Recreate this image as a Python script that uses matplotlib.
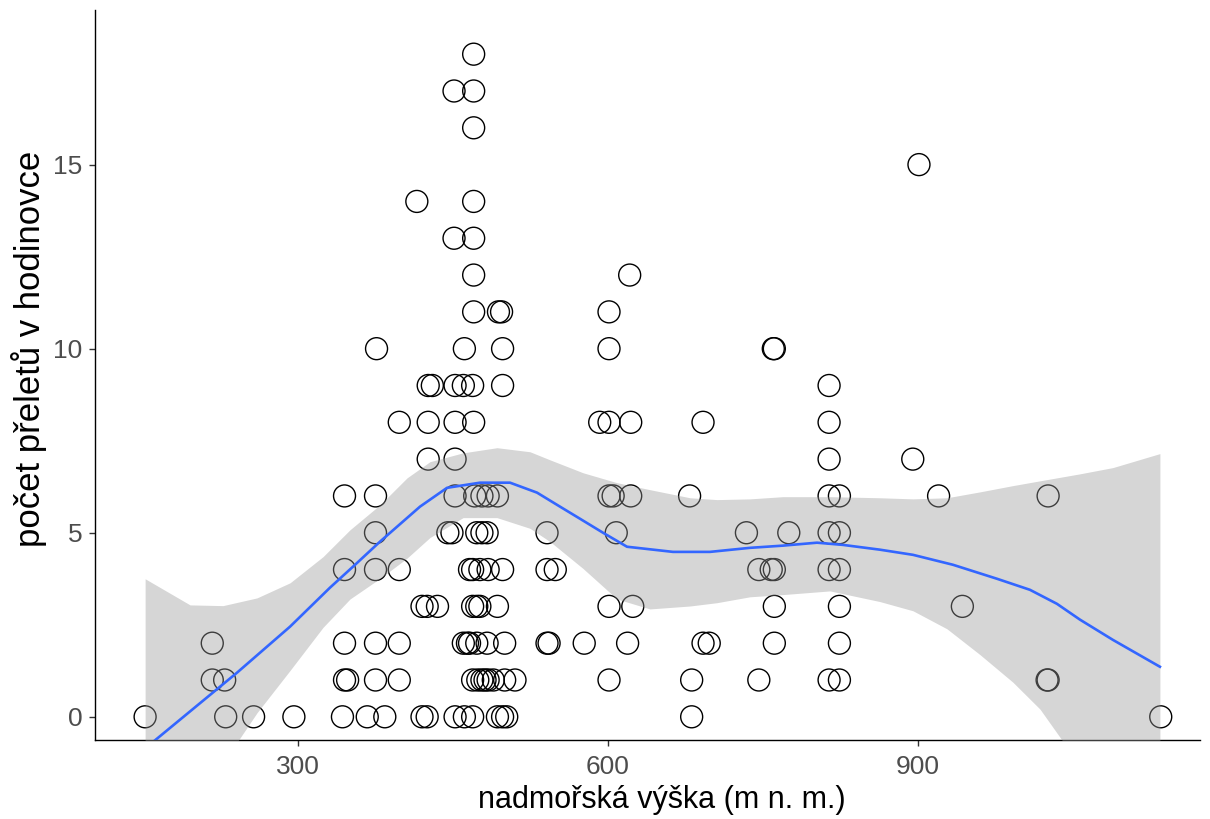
import matplotlib
matplotlib.use("Agg")
import matplotlib.pyplot as plt

plt.rcParams['font.family'] = ['Liberation Sans', 'DejaVu Sans']

# elevation (m a.s.l.) and number of flights per hour, one line per count level
elevation = [
    152, 230, 257, 296, 343, 367, 384, 420, 425, 452, 461, 469, 493, 498, 502, 681, 1135,
    217, 229, 345, 348, 375, 398, 469, 474, 478, 481, 484, 489, 500, 510, 601, 681, 746, 814, 824, 1025, 1026,
    217, 345, 375, 398, 460, 464, 466, 473, 483, 500, 541, 543, 577, 619, 692, 698, 761, 824,
    420, 425, 435, 469, 473, 476, 493, 601, 624, 761, 824, 943,
    345, 375, 398, 466, 469, 476, 484, 498, 541, 549, 746, 758, 761, 814, 824,
    375, 445, 449, 473, 478, 483, 541, 608, 734, 775, 814, 824,
    345, 375, 452, 471, 478, 484, 493, 601, 605, 622, 679, 814, 824, 920, 1026,
    426, 452, 814, 895,
    398, 426, 452, 470, 592, 601, 622, 692, 814,
    426, 430, 452, 460, 469, 498, 814,
    376, 461, 498, 601, 760, 761,
    470, 494, 497, 601,
    470, 621,
    451, 470,
    415, 470,
    901,
    470,
    451, 470,
    470,
]
flights = [
    0, 0, 0, 0, 0, 0, 0, 0, 0, 0, 0, 0, 0, 0, 0, 0, 0,
    1, 1, 1, 1, 1, 1, 1, 1, 1, 1, 1, 1, 1, 1, 1, 1, 1, 1, 1, 1, 1,
    2, 2, 2, 2, 2, 2, 2, 2, 2, 2, 2, 2, 2, 2, 2, 2, 2, 2,
    3, 3, 3, 3, 3, 3, 3, 3, 3, 3, 3, 3,
    4, 4, 4, 4, 4, 4, 4, 4, 4, 4, 4, 4, 4, 4, 4,
    5, 5, 5, 5, 5, 5, 5, 5, 5, 5, 5, 5,
    6, 6, 6, 6, 6, 6, 6, 6, 6, 6, 6, 6, 6, 6, 6,
    7, 7, 7, 7,
    8, 8, 8, 8, 8, 8, 8, 8, 8,
    9, 9, 9, 9, 9, 9, 9,
    10, 10, 10, 10, 10, 10,
    11, 11, 11, 11,
    12, 12,
    13, 13,
    14, 14,
    15,
    16,
    17, 17,
    18,
]

# loess fit line
fit_x = [152, 241.0, 292.3, 331.0, 355.2, 379.4, 418.1, 444.2, 476.1, 505.2,
         531.3, 553.5, 570.0, 595.2, 618.4, 662.9, 698.7, 737.4, 769.4, 802.3,
         827.4, 863.2, 895.2, 933.9, 976.5, 1008.4, 1034.5, 1056.8, 1088.7, 1134.2]
fit_y = [-0.86, 1.20, 2.45, 3.51, 4.13, 4.76, 5.71, 6.22, 6.36, 6.36,
         6.09, 5.71, 5.43, 5.00, 4.62, 4.48, 4.48, 4.59, 4.65, 4.73,
         4.67, 4.54, 4.40, 4.13, 3.75, 3.45, 3.07, 2.64, 2.09, 1.36]

# confidence band
band_x = [152, 195.5, 227.4, 260.3, 292.3, 324.2, 350.3, 379.4, 405.5, 427.7,
          459.7, 492.6, 524.5, 543.9, 575.8, 608.7, 640.6, 679.4, 705.5, 737.4,
          769.4, 814.8, 863.2, 895.2, 928.1, 960.0, 991.9, 1018.1, 1056.8, 1088.7, 1134.2]
band_hi = [3.75, 3.04, 3.02, 3.23, 3.64, 4.35, 5.08, 5.76, 6.49, 6.93,
           7.17, 7.31, 7.20, 6.98, 6.63, 6.36, 6.17, 5.95, 5.90, 5.92,
           5.98, 5.98, 5.95, 5.92, 5.95, 6.11, 6.28, 6.41, 6.60, 6.77, 7.15]
band_lo = [-5.47, -2.76, -1.26, 0.11, 1.26, 2.43, 3.20, 3.76, 4.31, 4.87,
           5.41, 5.41, 5.12, 4.76, 4.03, 3.20, 2.93, 3.01, 3.10, 3.26,
           3.32, 3.42, 3.13, 2.88, 2.39, 1.69, 0.94, 0.21, -1.32, -2.59, -4.43]

W, H = 1210, 819
fig = plt.figure(figsize=(W / 100, H / 100), dpi=100)
left, right, top, bottom = 95, 1200, 10, 740
ax = fig.add_axes([left / W, 1 - bottom / H, (right - left) / W, (bottom - top) / H])

ax.scatter(elevation, flights, s=250, facecolors='none', edgecolors='black',
           linewidths=1.0, zorder=2)
ax.fill_between(band_x, band_lo, band_hi, color='#999999', alpha=0.4,
                linewidth=0, zorder=3)
ax.plot(fit_x, fit_y, color='#3366FF', linewidth=1.9, zorder=4)

ax.set_xlim(103.5, 1173)
ax.set_ylim(-0.63, 19.2)
ax.set_xticks([300, 600, 900])
ax.set_yticks([0, 5, 10, 15])

for side in ['top', 'right']:
    ax.spines[side].set_visible(False)
for side in ['left', 'bottom']:
    ax.spines[side].set_color('black')
    ax.spines[side].set_linewidth(1.0)

ax.tick_params(axis='both', length=4, width=1.0, color='#333333',
               labelsize=19, labelcolor='#4D4D4D')
ax.tick_params(axis='x', pad=7)
ax.tick_params(axis='y', pad=5)

ax.set_xlabel('nadmořská výška (m n. m.)', fontsize=22, color='black')
ax.set_ylabel('počet přeletů v hodinovce', fontsize=25, color='black')
ax.xaxis.set_label_coords((662 - left) / (right - left), -0.062)
ax.yaxis.set_label_coords(-0.043, (bottom - 349) / (bottom - top))

fig.savefig('out.png', dpi=100)
